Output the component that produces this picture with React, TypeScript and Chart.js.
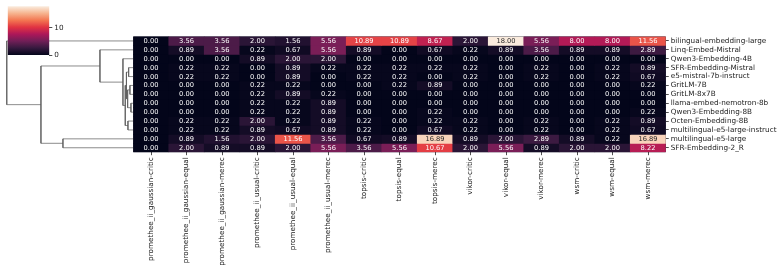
import React, { useEffect, useRef } from 'react';
import { Chart, registerables } from 'chart.js';
Chart.register(...registerables);

// ---------- data ----------
const ROWS = [
  'bilingual-embedding-large',
  'Linq-Embed-Mistral',
  'Qwen3-Embedding-4B',
  'SFR-Embedding-Mistral',
  'e5-mistral-7b-instruct',
  'GritLM-7B',
  'GritLM-8x7B',
  'llama-embed-nemotron-8b',
  'Qwen3-Embedding-8B',
  'Octen-Embedding-8B',
  'multilingual-e5-large-instruct',
  'multilingual-e5-large',
  'SFR-Embedding-2_R',
];

const COLS = [
  'promethee_ii_gaussian-critic',
  'promethee_ii_gaussian-equal',
  'promethee_ii_gaussian-merec',
  'promethee_ii_usual-critic',
  'promethee_ii_usual-equal',
  'promethee_ii_usual-merec',
  'topsis-critic',
  'topsis-equal',
  'topsis-merec',
  'vikor-critic',
  'vikor-equal',
  'vikor-merec',
  'wsm-critic',
  'wsm-equal',
  'wsm-merec',
];

const BILINGUAL_LARGE = [0.0, 3.56, 3.56, 2.0, 1.56, 5.56, 10.89, 10.89, 8.67, 2.0, 18.0, 5.56, 8.0, 8.0, 11.56];
const LINQ_MISTRAL = [0.0, 0.89, 3.56, 0.22, 0.67, 5.56, 0.89, 0.0, 0.67, 0.22, 0.89, 3.56, 0.89, 0.89, 2.89];
const QWEN3_4B = [0.0, 0.0, 0.0, 0.89, 2.0, 2.0, 0.0, 0.0, 0.0, 0.0, 0.0, 0.0, 0.0, 0.0, 0.0];
const SFR_MISTRAL = [0.0, 0.22, 0.22, 0.0, 0.89, 0.22, 0.22, 0.22, 0.22, 0.22, 0.0, 0.22, 0.0, 0.22, 0.89];
const E5_MISTRAL = [0.0, 0.22, 0.22, 0.0, 0.89, 0.0, 0.22, 0.22, 0.0, 0.22, 0.0, 0.22, 0.0, 0.22, 0.67];
const GRITLM_7B = [0.0, 0.0, 0.0, 0.22, 0.22, 0.0, 0.0, 0.22, 0.89, 0.0, 0.0, 0.0, 0.0, 0.0, 0.22];
const GRITLM_8X7B = [0.0, 0.0, 0.0, 0.22, 0.89, 0.22, 0.0, 0.0, 0.0, 0.0, 0.0, 0.0, 0.0, 0.0, 0.0];
const LLAMA_NEMOTRON = [0.0, 0.0, 0.0, 0.22, 0.22, 0.89, 0.0, 0.0, 0.0, 0.0, 0.0, 0.0, 0.0, 0.0, 0.0];
const QWEN3_8B = [0.0, 0.0, 0.0, 0.22, 0.22, 0.89, 0.0, 0.0, 0.22, 0.0, 0.0, 0.0, 0.0, 0.0, 0.22];
const OCTEN_8B = [0.0, 0.22, 0.22, 2.0, 0.22, 0.89, 0.22, 0.0, 0.22, 0.22, 0.0, 0.22, 0.0, 0.22, 0.89];
const ME5_INSTRUCT = [0.0, 0.22, 0.22, 0.89, 0.67, 0.89, 0.22, 0.0, 0.67, 0.22, 0.0, 0.22, 0.0, 0.22, 0.67];
const ME5_LARGE = [0.0, 0.89, 1.56, 2.0, 11.56, 3.56, 0.67, 0.89, 16.89, 0.89, 2.0, 2.89, 0.89, 0.22, 16.89];
const SFR_2R = [0.0, 2.0, 0.89, 0.89, 2.0, 5.56, 3.56, 5.56, 10.67, 2.0, 5.56, 0.89, 2.0, 2.0, 8.22];

const VALUES = [
  BILINGUAL_LARGE, LINQ_MISTRAL, QWEN3_4B, SFR_MISTRAL, E5_MISTRAL, GRITLM_7B, GRITLM_8X7B,
  LLAMA_NEMOTRON, QWEN3_8B, OCTEN_8B, ME5_INSTRUCT, ME5_LARGE, SFR_2R,
];

const VMIN = 0;
const VMAX = 18;
const CBAR_TICKS = [0, 10];

// row dendrogram linkage: [left node, right node, height]; leaves are row indices 0..12
const LINKAGE: [number, number, number][] = [
  [5, 6, 3.3],
  [7, 8, 2.3],
  [3, 4, 4.6],
  [9, 10, 5.3],
  [13, 14, 5.6],
  [15, 17, 6.8],
  [18, 16, 8.0],
  [2, 19, 10.3],
  [1, 20, 33.3],
  [11, 12, 70.3],
  [21, 22, 92.3],
  [0, 23, 126.5],
];
const DEND_MAX = 133.25;

// rocket colormap stops
const ROCKET_POS = [0, 1 / 7, 2 / 7, 3 / 7, 4 / 7, 5 / 7, 6 / 7, 1];
const ROCKET_HEX = ['#03051a', '#35193e', '#701f57', '#ad1759', '#e13342', '#f37651', '#f6b48f', '#faebdd'];

// ---------- layout ----------
const W = 784;
const H = 273;
const HM_LEFT = 133.25;
const HM_RIGHT = 665.75;
const HM_TOP = 36.5;
const HM_BOTTOM = 152.2;
const CB_LEFT = 7.7;
const CB_RIGHT = 49.3;
const CB_TOP = 5.7;
const CB_BOTTOM = 55;

const TEXT = '#222222';
const FONT = 'DejaVu Sans';

function hexToRgb(h: string) {
  return [parseInt(h.slice(1, 3), 16), parseInt(h.slice(3, 5), 16), parseInt(h.slice(5, 7), 16)];
}
function rocketRgb(t: number) {
  t = Math.max(0, Math.min(1, t));
  for (let i = 1; i < ROCKET_POS.length; i++) {
    if (t <= ROCKET_POS[i]) {
      const a = hexToRgb(ROCKET_HEX[i - 1]);
      const b = hexToRgb(ROCKET_HEX[i]);
      const f = (t - ROCKET_POS[i - 1]) / (ROCKET_POS[i] - ROCKET_POS[i - 1]);
      return a.map((v, k) => Math.round(v + (b[k] - v) * f));
    }
  }
  return hexToRgb(ROCKET_HEX[ROCKET_HEX.length - 1]);
}
function cellColor(v: number) {
  const c = rocketRgb((v - VMIN) / (VMAX - VMIN));
  return `rgb(${c[0]},${c[1]},${c[2]})`;
}
function textColor(v: number) {
  const c = rocketRgb((v - VMIN) / (VMAX - VMIN)).map((x) => x / 255);
  const l = c.map((x) => (x <= 0.03928 ? x / 12.92 : Math.pow((x + 0.055) / 1.055, 2.4)));
  const lum = l[0] * 0.2126 + l[1] * 0.7152 + l[2] * 0.0722;
  return lum > 0.408 ? '#262626' : '#ffffff';
}

const cellTextPlugin = {
  id: 'cellText',
  beforeDatasetsDraw(chart: any) {
    const { ctx, chartArea: a } = chart;
    ctx.save();
    ctx.fillStyle = cellColor(VMIN);
    ctx.fillRect(a.left, a.top, a.right - a.left, a.bottom - a.top);
    ctx.restore();
  },
  afterDatasetsDraw(chart: any) {
    const ctx = chart.ctx;
    ctx.save();
    ctx.font = `6.7px "${FONT}"`;
    ctx.textAlign = 'center';
    ctx.textBaseline = 'middle';
    chart.data.datasets.forEach((_: any, r: number) => {
      const meta = chart.getDatasetMeta(r);
      meta.data.forEach((el: any, c: number) => {
        const v = VALUES[r][c];
        const p = el.getProps(['x', 'y', 'base'], true);
        ctx.fillStyle = textColor(v);
        ctx.fillText(v.toFixed(2), p.x, (p.y + p.base) / 2 + 0.3);
      });
    });
    ctx.restore();
  },
};

function buildDendro() {
  const ys: number[] = ROWS.map((_, i) => i + 0.5);
  const hs: number[] = ROWS.map(() => 0);
  const segs: { x: number; y: number }[][] = [];
  LINKAGE.forEach(([a, b, h]) => {
    segs.push([
      { x: hs[a], y: ys[a] },
      { x: h, y: ys[a] },
      { x: h, y: ys[b] },
      { x: hs[b], y: ys[b] },
    ]);
    ys.push((ys[a] + ys[b]) / 2);
    hs.push(h);
  });
  return segs;
}

export default function App() {
  const hmRef = useRef<HTMLCanvasElement>(null);
  const cbRef = useRef<HTMLCanvasElement>(null);
  const dnRef = useRef<HTMLCanvasElement>(null);

  useEffect(() => {
    Chart.defaults.font.family = FONT;
    const tickFont = { family: FONT, size: 7.25 };

    const heat = new Chart(hmRef.current!, {
      type: 'bar',
      data: {
        labels: COLS,
        datasets: VALUES.map((row, r) => ({
          label: ROWS[r],
          data: row.map(() => [r, r + 1]),
          backgroundColor: row.map((v) => cellColor(v)),
          borderWidth: 0,
          barPercentage: 1,
          categoryPercentage: 1,
          grouped: false,
        })) as any,
      },
      options: {
        responsive: false,
        animation: false,
        devicePixelRatio: 1,
        layout: { padding: { left: HM_LEFT, top: HM_TOP, right: 0, bottom: 0 } },
        plugins: { legend: { display: false }, tooltip: { enabled: false } },
        scales: {
          x: {
            type: 'category',
            position: 'bottom',
            offset: true,
            grid: { display: true, drawOnChartArea: false, tickLength: 3, offset: false, color: TEXT, lineWidth: 0.8 },
            border: { display: false },
            ticks: { autoSkip: false, minRotation: 90, maxRotation: 90, padding: 2, color: TEXT, font: tickFont },
            afterFit: (s: any) => { s.height = H - HM_BOTTOM; },
          },
          y: { type: 'linear', min: 0, max: ROWS.length, reverse: true, display: false },
          yR: {
            type: 'category',
            labels: ROWS,
            position: 'right',
            offset: true,
            grid: { display: true, drawOnChartArea: false, tickLength: 3, offset: false, color: TEXT, lineWidth: 0.8 },
            border: { display: false },
            ticks: { autoSkip: false, padding: 2, color: TEXT, font: tickFont },
            afterFit: (s: any) => { s.width = W - HM_RIGHT; },
          },
        },
      } as any,
      plugins: [cellTextPlugin],
    });

    const cbar = new Chart(cbRef.current!, {
      type: 'bar',
      data: {
        labels: [''],
        datasets: [
          {
            data: [[VMIN, VMAX]] as any,
            backgroundColor: (c: any) => {
              const a = c.chart.chartArea;
              if (!a) return cellColor(VMAX / 2);
              const g = c.chart.ctx.createLinearGradient(0, a.bottom, 0, a.top);
              ROCKET_POS.forEach((p, i) => g.addColorStop(p, ROCKET_HEX[i]));
              return g;
            },
            borderWidth: 0,
            barPercentage: 1,
            categoryPercentage: 1,
          },
        ],
      },
      options: {
        responsive: false,
        animation: false,
        devicePixelRatio: 1,
        layout: { padding: { left: CB_LEFT, top: CB_TOP, right: W - CB_RIGHT - 20, bottom: H - CB_BOTTOM } },
        plugins: { legend: { display: false }, tooltip: { enabled: false } },
        scales: {
          x: { display: false },
          y: {
            min: VMIN,
            max: VMAX,
            position: 'right',
            afterBuildTicks: (s: any) => { s.ticks = CBAR_TICKS.map((v) => ({ value: v })); },
            grid: { display: true, drawOnChartArea: false, tickLength: 3, color: TEXT, lineWidth: 0.8 },
            border: { display: false },
            ticks: { padding: 2, color: TEXT, font: tickFont },
            afterFit: (s: any) => { s.width = 20; },
          },
        },
      } as any,
    });

    const dendro = new Chart(dnRef.current!, {
      type: 'scatter',
      data: {
        datasets: buildDendro().map((seg) => ({
          data: seg,
          showLine: true,
          pointRadius: 0,
          borderColor: '#5a5a5a',
          borderWidth: 0.7,
          tension: 0,
          clip: false as any,
        })),
      },
      options: {
        responsive: false,
        animation: false,
        devicePixelRatio: 1,
        layout: { padding: { left: 0, top: HM_TOP, right: W - HM_LEFT, bottom: H - HM_BOTTOM } },
        plugins: { legend: { display: false }, tooltip: { enabled: false } },
        scales: {
          x: { type: 'linear', min: 0, max: DEND_MAX, reverse: true, display: false },
          y: { type: 'linear', min: 0, max: ROWS.length, reverse: true, display: false },
        },
      } as any,
    });

    return () => {
      heat.destroy();
      cbar.destroy();
      dendro.destroy();
    };
  }, []);

  const cs: React.CSSProperties = { position: 'absolute', left: 0, top: 0, width: W, height: H };
  return (
    <div style={{ position: 'fixed', left: 0, top: 0, width: W, height: H, background: '#fff' }}>
      <canvas ref={dnRef} width={W} height={H} style={cs} />
      <canvas ref={hmRef} width={W} height={H} style={cs} />
      <canvas ref={cbRef} width={W} height={H} style={cs} />
    </div>
  );
}
